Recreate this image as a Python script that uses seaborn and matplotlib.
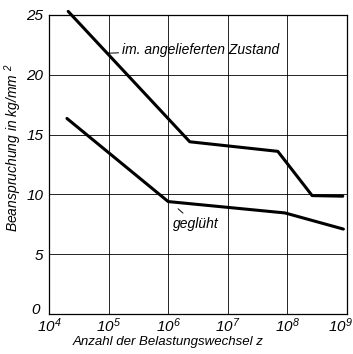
import matplotlib
matplotlib.use("Agg")
import matplotlib.pyplot as plt
import matplotlib.transforms as mtransforms
import seaborn as sns
import pandas as pd
from matplotlib.ticker import FixedLocator, FixedFormatter

sns.set_theme(style="white")
MAIN = "Liberation Sans"
plt.rcParams["font.family"] = [MAIN, "DejaVu Sans"]
plt.rcParams["font.style"] = "italic"
plt.rcParams["mathtext.fontset"] = "custom"
plt.rcParams["mathtext.rm"] = MAIN + ":italic"
plt.rcParams["mathtext.it"] = MAIN + ":italic"
plt.rcParams["mathtext.default"] = "rm"

# Data
upper_n = [2.1e4, 2.3e6, 6.9e7, 2.6e8, 8.5e8]
upper_s = [25.3, 14.4, 13.6, 9.9, 9.85]
lower_n = [2.0e4, 1.0e6, 9.1e7, 8.7e8]
lower_s = [16.35, 9.4, 8.45, 7.1]
x_ticks = [1e4, 1e5, 1e6, 1e7, 1e8, 1e9]
x_labels = [r"$10^{4}$", r"$10^{5}$", r"$10^{6}$", r"$10^{7}$", r"$10^{8}$", r"$10^{9}$"]
y_ticks = [0, 5, 10, 15, 20, 25]
label_upper = "im. angelieferten Zustand"
label_lower = "geglüht"

df = pd.concat([
    pd.DataFrame({"n": upper_n, "s": upper_s, "state": label_upper}),
    pd.DataFrame({"n": lower_n, "s": lower_s, "state": label_lower}),
])

fig = plt.figure(figsize=(3.53, 3.54), dpi=100)
ax = fig.add_axes([49/353, 1-314/354, (347-49)/353, (314-15)/354])

sns.lineplot(data=df, x="n", y="s", units="state", estimator=None, color="black",
             linewidth=2.2, sort=False, ax=ax, clip_on=False, legend=False)

ax.set_xscale("log")
ax.set_xlim(1e4, 1e9)
ax.set_ylim(0, 25)
ax.xaxis.set_major_locator(FixedLocator(x_ticks))
ax.xaxis.set_major_formatter(FixedFormatter(x_labels))
ax.xaxis.set_minor_locator(FixedLocator([]))
ax.yaxis.set_major_locator(FixedLocator(y_ticks))
ax.grid(True, which="major", color="black", linewidth=0.6)
for s in ax.spines.values():
    s.set_color("black")
    s.set_linewidth(0.9)
ax.tick_params(length=0, labelsize=11, colors="black")
ax.tick_params(axis="x", pad=2)
ax.tick_params(axis="y", pad=4)

fig.canvas.draw()
xl = ax.get_xticklabels()
xl[-1].set_transform(xl[-1].get_transform() + mtransforms.ScaledTranslation(-7/100, 0, fig.dpi_scale_trans))
yl = ax.get_yticklabels()
yl[0].set_transform(yl[0].get_transform() + mtransforms.ScaledTranslation(-4/100, 6/100, fig.dpi_scale_trans))

ax.set_xlabel("Anzahl der Belastungswechsel z", fontsize=9.5, color="black")
ax.xaxis.set_label_coords(0.40, -0.072)
ax.set_ylabel(r"Beanspruchung in kg/mm $^{2}$", fontsize=10, color="black")
ax.yaxis.set_label_coords(-0.085, 0.555)

# annotations
ax.annotate(label_upper, xy=(9.3e4, 21.8), xytext=(1.67e5, 22.1), fontsize=10,
            ha="left", va="center", color="black",
            arrowprops=dict(arrowstyle="-", color="black", lw=0.7, shrinkA=0, shrinkB=0))
ax.annotate(label_lower, xy=(1.35e6, 8.95), xytext=(1.2e6, 7.5), fontsize=10,
            ha="left", va="center", color="black",
            arrowprops=dict(arrowstyle="-", color="black", lw=0.7, shrinkA=1, shrinkB=2))

fig.savefig("out.png", dpi=100)
